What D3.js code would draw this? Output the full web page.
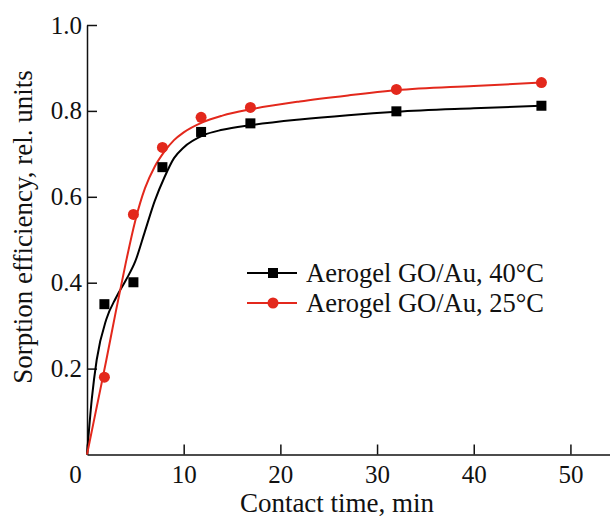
<!DOCTYPE html>
<html>
<head>
<meta charset="utf-8">
<script src="https://cdn.jsdelivr.net/npm/d3@7"></script>
<style>
  body { margin: 0; background: #fff; }
  svg text { font-family: "Liberation Serif", "Times New Roman", serif; fill: #111; }
</style>
</head>
<body>
<div id="chart"></div>
<script>
// Measured points (contact time, min)
const timeMin = [1.8, 4.8, 7.8, 11.8, 16.9, 32, 47];
const eff40 = [0.35, 0.401, 0.669, 0.751, 0.771, 0.799, 0.812];
const eff25 = [0.18, 0.559, 0.715, 0.785, 0.808, 0.850, 0.866];

// Fitted curves
const fitTime = [0, 0.5, 1, 2, 3, 4, 5, 6, 7, 8, 9, 10, 12, 14, 17, 22, 27, 32, 40, 47];
const fit40 = [0, 0.13, 0.22, 0.315, 0.365, 0.405, 0.45, 0.52, 0.59, 0.645, 0.69, 0.715, 0.743, 0.756, 0.767, 0.78, 0.79, 0.798, 0.806, 0.812];
const fit25 = [0, 0.055, 0.11, 0.22, 0.335, 0.445, 0.545, 0.62, 0.67, 0.705, 0.732, 0.75, 0.774, 0.789, 0.804, 0.822, 0.836, 0.848, 0.858, 0.866];

const xTicks = [0, 10, 20, 30, 40, 50];
const yTicks = [0.2, 0.4, 0.6, 0.8, 1.0];

const seriesNames = ["Aerogel GO/Au, 40°C", "Aerogel GO/Au, 25°C"];
const seriesColors = ["#000000", "#e3281c"];

const width = 610, height = 516;
const svg = d3.select('#chart').append('svg')
    .attr('width', width)
    .attr('height', height);

const x = d3.scaleLinear().domain([0, 54.3]).range([87, 612]);
const y = d3.scaleLinear().domain([0, 1]).range([454.5, 25]);

// axes, ticks pointing inward
const xAxis = svg.append('g')
    .attr('transform', `translate(0,${y(0)})`)
    .call(d3.axisBottom(x).tickValues(xTicks).tickSizeInner(-10).tickSizeOuter(0).tickPadding(11));
xAxis.selectAll('text')
    .style('font-size', '25px')
    .attr('fill', '#111')
    .filter(d => d === 0)
    .attr('dx', -12);

const yAxis = svg.append('g')
    .attr('transform', `translate(${x(0)},0)`)
    .call(d3.axisLeft(y).tickValues(yTicks).tickSizeInner(-10).tickSizeOuter(0).tickPadding(5)
        .tickFormat(d3.format('.1f')));
yAxis.selectAll('text').style('font-size', '25px').attr('fill', '#111');

svg.selectAll('.domain, .tick line').attr('stroke', '#111').attr('stroke-width', 1.5);

// axis titles
svg.append('text')
    .attr('x', 337).attr('y', 512)
    .attr('text-anchor', 'middle')
    .style('font-size', '27px')
    .text('Contact time, min');

svg.append('text')
    .attr('transform', 'translate(32,227) rotate(-90)')
    .attr('text-anchor', 'middle')
    .style('font-size', '27px')
    .text('Sorption efficiency, rel. units');

// fitted curves
const line = d3.line().x(d => x(d[0])).y(d => y(d[1])).curve(d3.curveMonotoneX);
const fits = [fit40, fit25];
fits.forEach((f, i) => {
    svg.append('path')
        .datum(fitTime.map((t, j) => [t, f[j]]))
        .attr('fill', 'none')
        .attr('stroke', seriesColors[i])
        .attr('stroke-width', 2)
        .attr('d', line);
});

// markers
svg.selectAll('rect.m40')
    .data(timeMin.map((t, j) => [t, eff40[j]]))
    .enter().append('rect')
    .attr('class', 'm40')
    .attr('x', d => x(d[0]) - 5)
    .attr('y', d => y(d[1]) - 5)
    .attr('width', 10).attr('height', 10)
    .attr('fill', seriesColors[0]);

svg.selectAll('circle.m25')
    .data(timeMin.map((t, j) => [t, eff25[j]]))
    .enter().append('circle')
    .attr('class', 'm25')
    .attr('cx', d => x(d[0]))
    .attr('cy', d => y(d[1]))
    .attr('r', 5.5)
    .attr('fill', seriesColors[1]);

// legend
const legend = svg.append('g').attr('transform', 'translate(247,273)');
seriesNames.forEach((name, i) => {
    const g = legend.append('g').attr('transform', `translate(0,${i * 30})`);
    g.append('line')
        .attr('x1', 0).attr('x2', 50)
        .attr('stroke', seriesColors[i]).attr('stroke-width', 2);
    if (i === 0) {
        g.append('rect').attr('x', 21).attr('y', -5).attr('width', 10).attr('height', 10).attr('fill', seriesColors[i]);
    } else {
        g.append('circle').attr('cx', 26).attr('r', 5.5).attr('fill', seriesColors[i]);
    }
    g.append('text')
        .attr('x', 59).attr('y', 0).attr('dy', '0.35em')
        .style('font-size', '26.5px')
        .text(name);
});
</script>
</body>
</html>
